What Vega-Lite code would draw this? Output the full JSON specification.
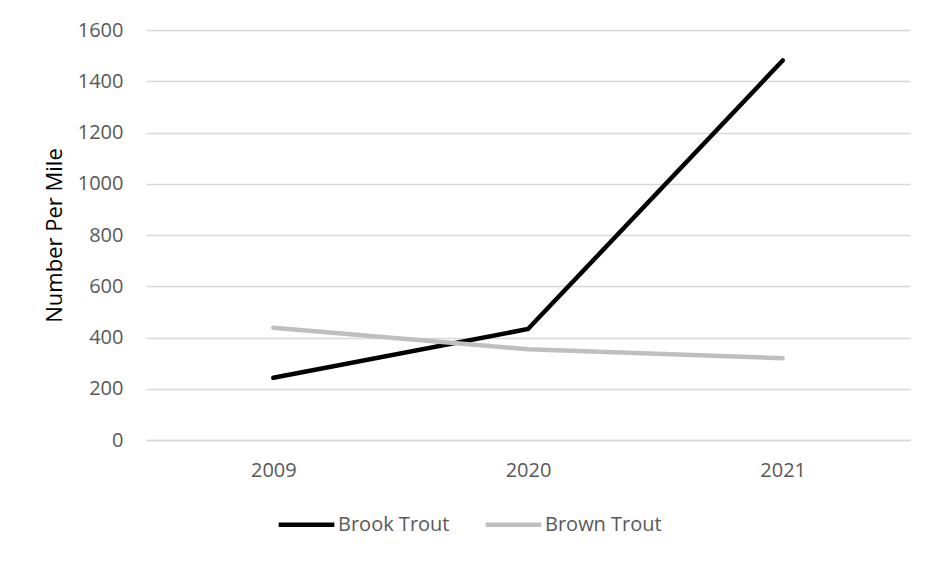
{
  "$schema": "https://vega.github.io/schema/vega-lite/v6.json",
  "autosize": {"type": "none"},
  "width": 764,
  "height": 410,
  "padding": {"left": 146, "top": 30, "right": 28, "bottom": 125},
  "background": "white",
  "config": {
    "view": {"stroke": null},
    "font": "Open Sans"
  },
  "data": {
    "values": [
      {"Year": "2009", "Species": "Brook Trout", "Value": 243},
      {"Year": "2020", "Species": "Brook Trout", "Value": 433},
      {"Year": "2021", "Species": "Brook Trout", "Value": 1481},
      {"Year": "2009", "Species": "Brown Trout", "Value": 438},
      {"Year": "2020", "Species": "Brown Trout", "Value": 354},
      {"Year": "2021", "Species": "Brown Trout", "Value": 319}
    ]
  },
  "mark": {"type": "line", "strokeWidth": 4.5, "strokeCap": "round", "strokeJoin": "miter"},
  "encoding": {
    "x": {
      "field": "Year", "type": "ordinal",
      "scale": {"paddingInner": 0, "paddingOuter": 0.5},
      "axis": {
        "title": null, "labelAngle": 0, "labelFontSize": 20, "labelColor": "#595959",
        "domainColor": "#d9d9d9", "domainWidth": 1.3, "ticks": false, "labelPadding": 20, "grid": false
      }
    },
    "y": {
      "field": "Value", "type": "quantitative",
      "scale": {"domain": [0, 1600], "nice": false},
      "axis": {
        "title": "Number Per Mile", "titleFontSize": 22, "titleFontWeight": "normal", "titleColor": "#000000",
        "titlePadding": 11, "format": "d",
        "values": [0, 200, 400, 600, 800, 1000, 1200, 1400, 1600],
        "labelFontSize": 20, "labelColor": "#595959", "labelPadding": 23,
        "domain": false, "ticks": false, "gridColor": "#d9d9d9", "gridWidth": 1.3
      }
    },
    "color": {
      "field": "Species", "type": "nominal",
      "scale": {"domain": ["Brook Trout", "Brown Trout"], "range": ["#000000", "#bfbfbf"]},
      "legend": {
        "title": null, "orient": "none", "direction": "horizontal",
        "legendX": 130, "legendY": 464,
        "symbolType": "stroke", "symbolSize": 3100, "symbolStrokeWidth": 4.5,
        "labelFontSize": 20, "labelColor": "#595959", "labelOffset": 1, "columnPadding": 26
      }
    }
  }
}
